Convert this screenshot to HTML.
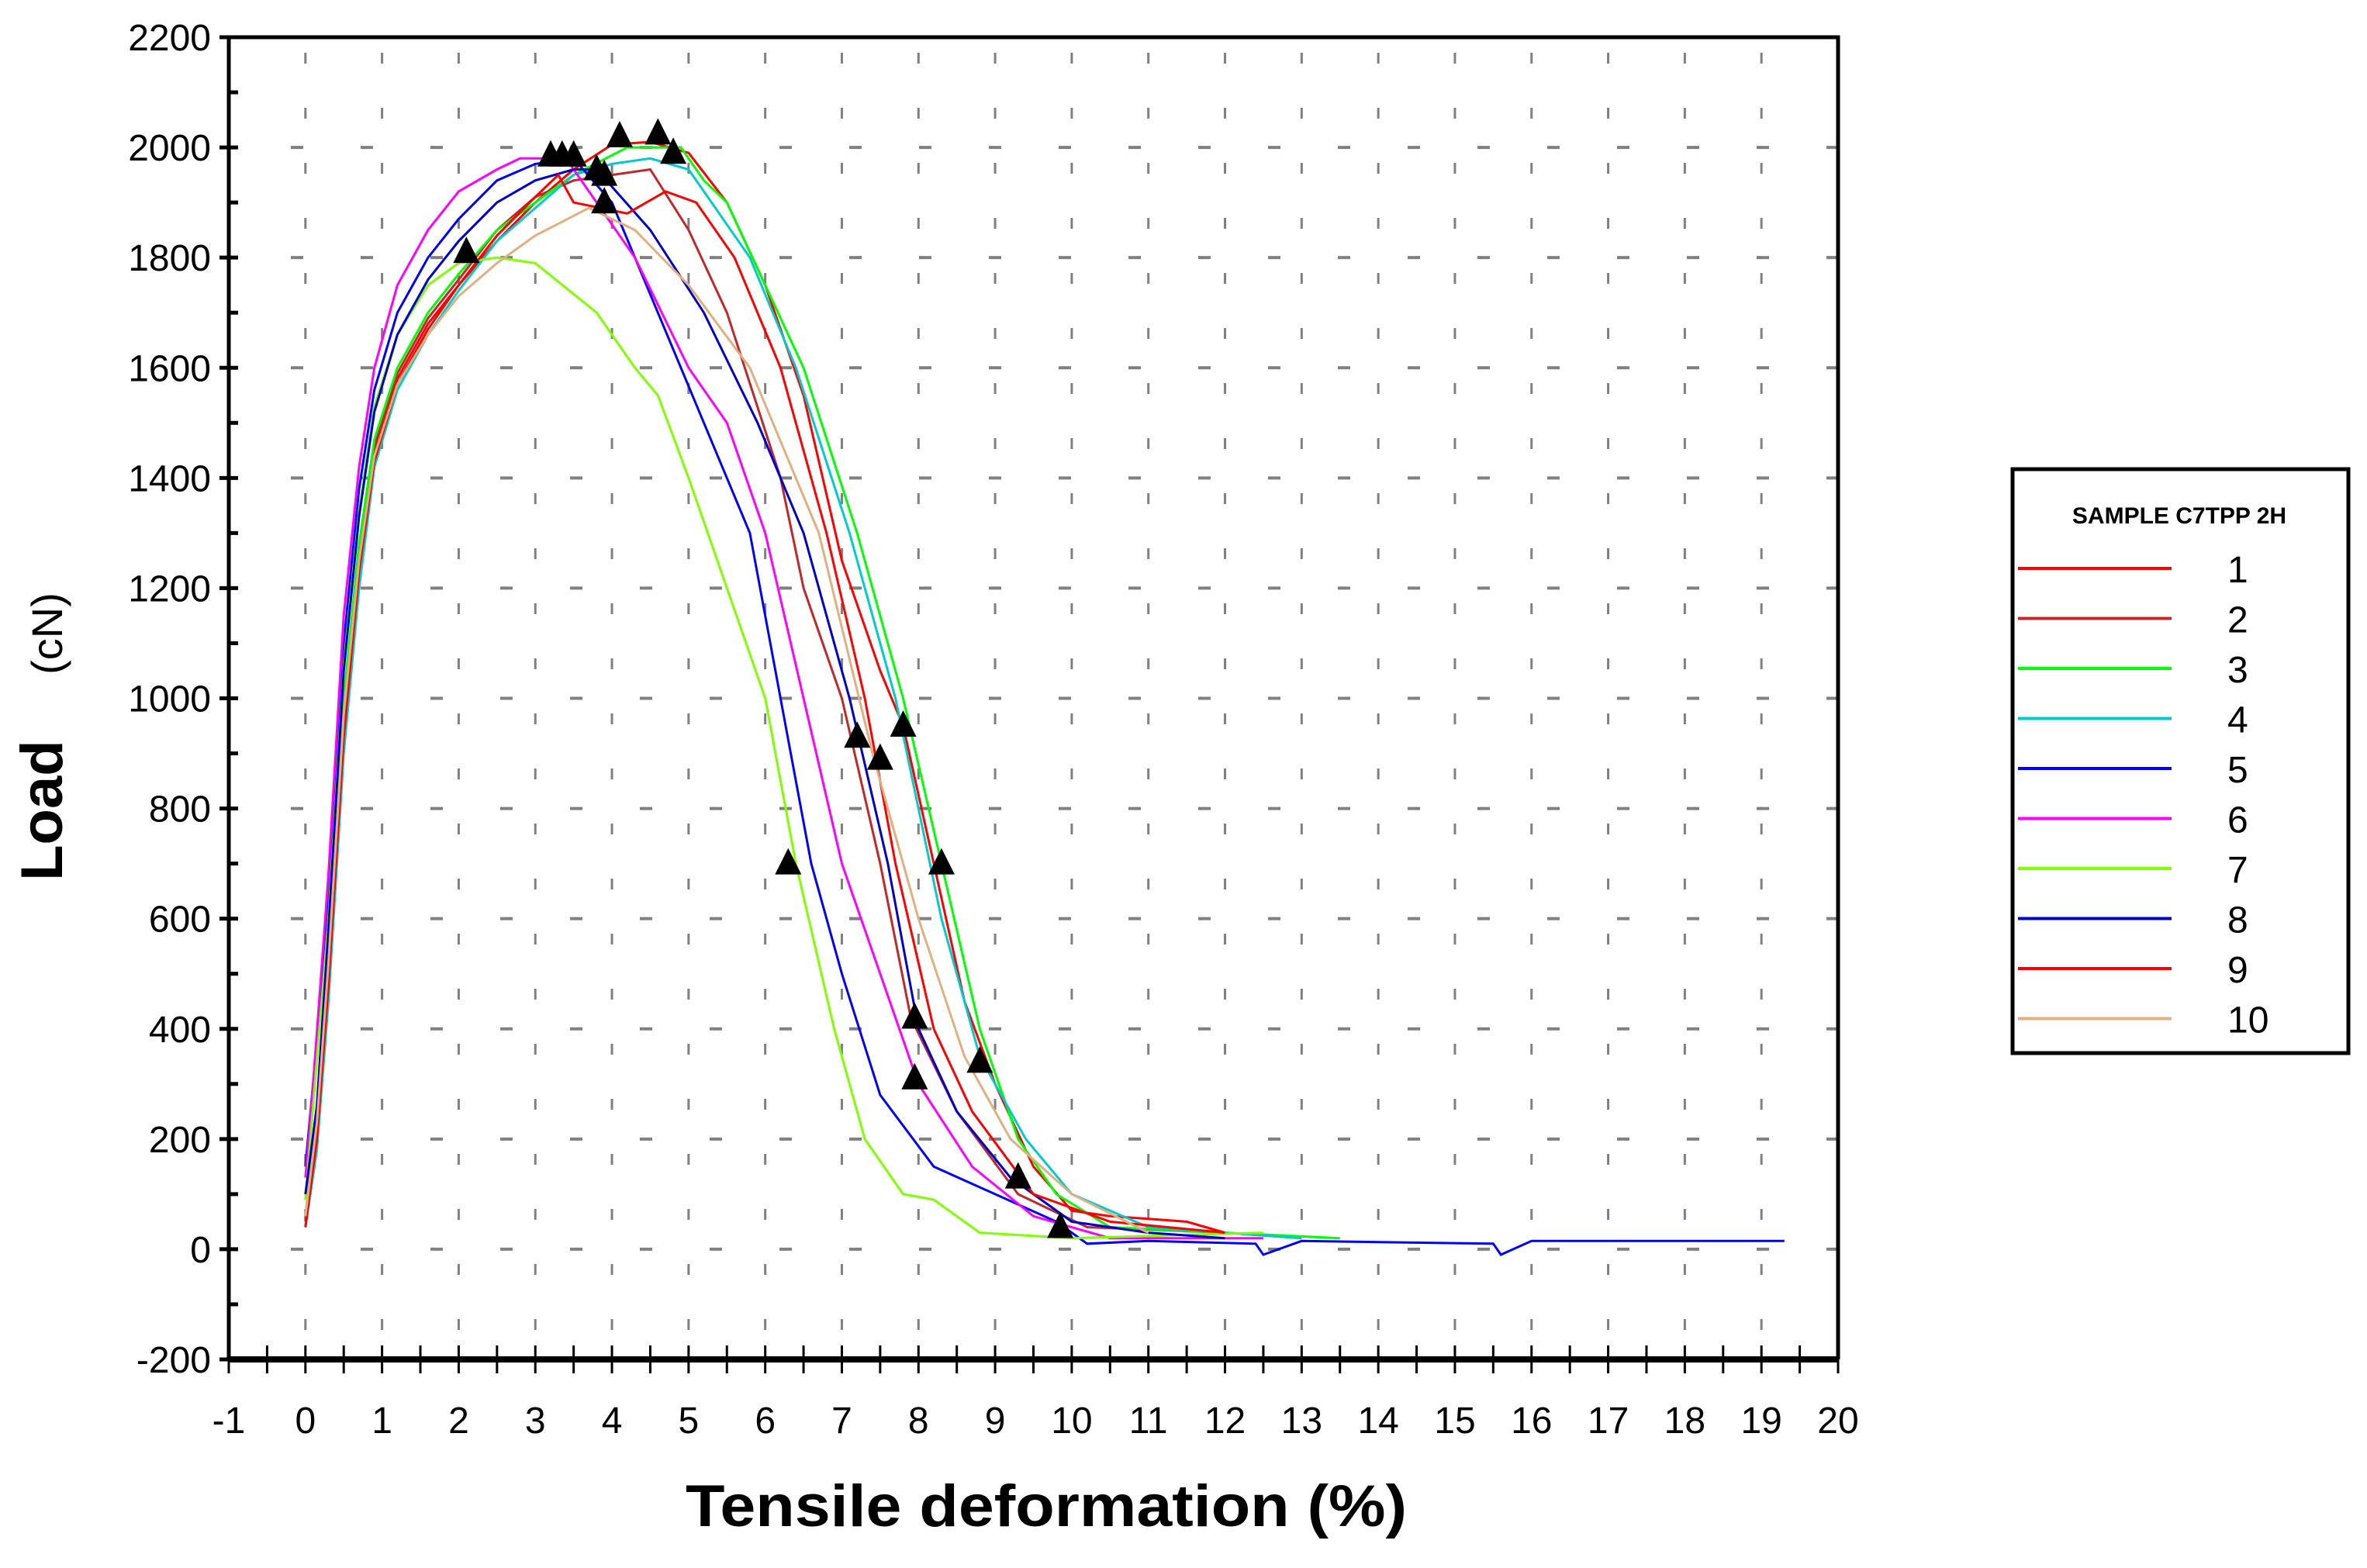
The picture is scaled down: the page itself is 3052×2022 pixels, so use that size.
<!DOCTYPE html>
<html><head><meta charset="utf-8"><style>
html,body{margin:0;padding:0;background:#fff;}
svg{display:block;}
text{font-family:"Liberation Sans",sans-serif;}
</style></head><body>
<svg id="chart" width="3052" height="2022" viewBox="0 0 3052 2022" xmlns="http://www.w3.org/2000/svg">
<g id="grid"></g>
<g id="series"></g>
<g id="markers"></g>
<g id="axes"></g>
<text x="1349" y="1968" text-anchor="middle" font-size="76" font-weight="bold" textLength="930" lengthAdjust="spacingAndGlyphs">Tensile deformation   (%)</text>
<text transform="translate(80,950) rotate(-90)" text-anchor="middle" font-size="76" font-weight="bold" xml:space="preserve">Load    <tspan font-weight="normal" font-size="56">(cN)</tspan></text>
<g id="legend">
<rect x="2595" y="605" width="433" height="753" fill="#fff" stroke="#000" stroke-width="5"/>
<text x="2810" y="675" text-anchor="middle" font-size="30" font-weight="bold">SAMPLE C7TPP 2H</text>
</g>
</svg>
<script>
const NS="http://www.w3.org/2000/svg";
const xTicks=[-1,0,1,2,3,4,5,6,7,8,9,10,11,12,13,14,15,16,17,18,19,20];
const yTicks=[-200,0,200,400,600,800,1000,1200,1400,1600,1800,2000,2200];
const seriesNames=["1","2","3","4","5","6","7","8","9","10"];
const seriesColors=["#ff0000","#c0282a","#00ff00","#00cccc","#0000ff","#ff00ff","#80ff00","#0000cc","#ff0000","#e0b080"];
const s1X=[0,0.15,0.3,0.5,0.7,0.9,1.2,1.6,2,2.5,3,3.5,4,4.5,5,5.5,6,6.5,7,7.5,7.8,8.2,8.6,9,9.5,10,10.5,11,11.5,12,13];
const s1Y=[40,200,500,950,1250,1450,1580,1680,1750,1830,1900,1960,2005,2010,1990,1900,1750,1550,1250,1050,950,700,450,300,150,70,60,55,50,30,20];
const s2X=[0,0.15,0.3,0.5,0.7,0.9,1.2,1.6,2,2.5,3,3.5,4,4.5,5,5.5,6.2,6.5,7,7.5,7.9,8.5,9.3,10.2,12];
const s2Y=[50,220,520,970,1260,1460,1590,1690,1760,1850,1910,1940,1950,1960,1850,1700,1400,1200,1000,700,420,250,100,40,30];
const s3X=[0,0.15,0.3,0.5,0.7,0.9,1.2,1.6,2,2.5,3,3.5,4.2,4.9,5.2,5.5,6,6.5,7.2,7.8,8.3,8.8,9.3,9.8,10.5,13.5];
const s3Y=[60,250,560,1000,1280,1470,1600,1700,1770,1850,1900,1950,2000,2000,1940,1900,1750,1600,1300,1000,700,400,200,100,40,20];
const s4X=[0,0.15,0.3,0.5,0.7,0.9,1.2,1.6,2,2.5,3,3.5,4,4.5,5,5.8,6.4,7.1,7.7,8.3,8.8,9.4,10,11,13];
const s4Y=[40,180,450,900,1200,1420,1560,1660,1740,1830,1890,1950,1970,1980,1960,1800,1600,1300,1000,600,350,200,100,40,20];
const s5X=[0,0.1,0.3,0.5,0.7,0.9,1.2,1.6,2,2.5,3,3.5,4,4.6,5.2,5.8,6.2,6.6,7,7.5,8.2,9,9.8,10.2,11,12.4,12.5,13,15.5,15.6,16,19.3];
const s5Y=[150,300,650,1100,1380,1560,1700,1800,1870,1940,1970,1980,1900,1700,1500,1300,1000,700,500,280,150,100,50,10,15,10,-10,15,10,-10,15,15];
const s6X=[0,0.1,0.3,0.5,0.7,0.9,1.2,1.6,2,2.5,2.8,3.4,3.8,4.3,5,5.5,6,6.5,7,7.5,8,8.7,9.5,10.5,12.5];
const s6Y=[130,300,680,1150,1420,1600,1750,1850,1920,1960,1980,1980,1900,1800,1600,1500,1300,1000,700,500,300,150,60,20,20];
const s7X=[0,0.1,0.3,0.5,0.7,0.9,1.2,1.6,2,2.5,3,3.8,4.3,4.6,5,5.5,6,6.4,6.9,7.3,7.8,8.2,8.8,10,12.5];
const s7Y=[90,260,600,1060,1340,1530,1660,1750,1790,1800,1790,1700,1600,1550,1400,1200,1000,700,400,200,100,90,30,20,30];
const s8X=[0,0.15,0.3,0.5,0.7,0.9,1.2,1.6,2,2.5,3,3.5,3.8,4.5,5.2,5.9,6.5,7.1,7.6,8,8.5,9.2,10,11,12];
const s8Y=[100,260,580,1050,1330,1520,1660,1760,1830,1900,1940,1960,1960,1850,1700,1500,1300,1000,700,400,250,130,50,30,20];
const s9X=[0,0.15,0.3,0.5,0.7,0.9,1.2,1.6,2,2.5,3,3.3,3.5,4.2,4.7,5.1,5.6,6.2,6.8,7.3,7.7,8.2,8.7,9.5,10.5,12];
const s9Y=[40,200,480,930,1230,1430,1570,1670,1750,1840,1910,1950,1900,1880,1920,1900,1800,1600,1300,1000,700,400,250,100,50,30];
const s10X=[0,0.15,0.3,0.5,0.7,0.9,1.2,1.6,2,2.5,3,3.7,4.3,5,5.8,6.7,7.4,8,8.6,9.2,10,11];
const s10Y=[60,230,520,970,1250,1440,1570,1660,1730,1790,1840,1890,1850,1750,1600,1300,900,600,350,200,100,30];
const seriesX=[s1X,s2X,s3X,s4X,s5X,s6X,s7X,s8X,s9X,s10X];
const seriesY=[s1Y,s2Y,s3Y,s4Y,s5Y,s6Y,s7Y,s8Y,s9Y,s10Y];
const markerX=[2.1,3.2,3.35,3.5,3.8,3.9,3.9,4.1,4.6,4.8,6.3,7.2,7.5,7.8,8.3,7.95,7.95,8.8,9.3,9.85];
const markerY=[1810,1985,1985,1985,1960,1950,1900,2020,2025,1990,700,930,890,950,700,420,310,340,130,40];

const xMin=-1,xMax=20,yMin=-200,yMax=2200;
const L=295,R=2370,T=48,B=1753;
function xs(v){return L+(v-xMin)/(xMax-xMin)*(R-L);}
function ys(v){return B-(v-yMin)/(yMax-yMin)*(B-T);}
function mk(tag,attrs,parent){const e=document.createElementNS(NS,tag);for(const k in attrs)e.setAttribute(k,attrs[k]);parent.appendChild(e);return e;}

const grid=document.getElementById('grid');
for(let v=0;v<=2000;v+=200){
  const ln=mk('line',{x1:L+80,x2:R,y1:ys(v),y2:ys(v),stroke:'#808080','stroke-width':4,'stroke-dasharray':'16 74'},grid);
  
  
}
for(let v=0;v<=19;v++){
  const ln=mk('line',{x1:xs(v),x2:xs(v),y1:T+20,y2:B,stroke:'#808080','stroke-width':3,'stroke-dasharray':'14 57'},grid);
  
  
}

const sg=document.getElementById('series');
for(let i=0;i<seriesX.length;i++){
  const pts=seriesX[i].map((xv,j)=>xs(xv).toFixed(1)+','+ys(seriesY[i][j]).toFixed(1)).join(' ');
  const pl=mk('polyline',{points:pts,fill:'none',stroke:seriesColors[i],'stroke-width':3,'stroke-linejoin':'miter'},sg);
  
  
}
const mg=document.getElementById('markers');
for(let i=0;i<markerX.length;i++){
  const cx=xs(markerX[i]),cy=ys(markerY[i]);
  const p=mk('polygon',{points:`${cx-17},${cy+14} ${cx+17},${cy+14} ${cx},${cy-20}`,fill:'#000'},mg);
  
  
}

const ax=document.getElementById('axes');
const frame=mk('path',{d:`M${L},${B} L${L},${T} L${R},${T} L${R},${B}`,fill:'none',stroke:'#000','stroke-width':5},ax);


const xaxis=mk('line',{x1:L,x2:R,y1:B,y2:B,stroke:'#000','stroke-width':8},ax);


for(let v=-200;v<=2200;v+=100){
  const major=(v%200===0);
  const t=mk('line',{x1:major?L-12:L,x2:L+12,y1:ys(v),y2:ys(v),stroke:'#000','stroke-width':5},ax);
  
  
}
for(let v=xMin;v<=xMax;v+=0.5){
  const t=mk('line',{x1:xs(v),x2:xs(v),y1:B-18,y2:B+18,stroke:'#000','stroke-width':3},ax);
  
  
}
yTicks.forEach(v=>{
  const t=mk('text',{x:272,y:ys(v)+17,'text-anchor':'end','font-size':48},ax);
  t.textContent=v;
  
  
});
xTicks.forEach(v=>{
  const t=mk('text',{x:xs(v),y:1848,'text-anchor':'middle','font-size':48},ax);
  t.textContent=v;
  
  
});

const lg=document.getElementById('legend');
for(let i=0;i<seriesNames.length;i++){
  const y=733+i*64.5;
  const l=mk('line',{x1:2602,x2:2800,y1:y,y2:y,stroke:seriesColors[i],'stroke-width':4},lg);
  
  
  const t=mk('text',{x:2872,y:y+18,'font-size':48},lg);
  t.textContent=seriesNames[i];
  
  
}
</script>
</body></html>
